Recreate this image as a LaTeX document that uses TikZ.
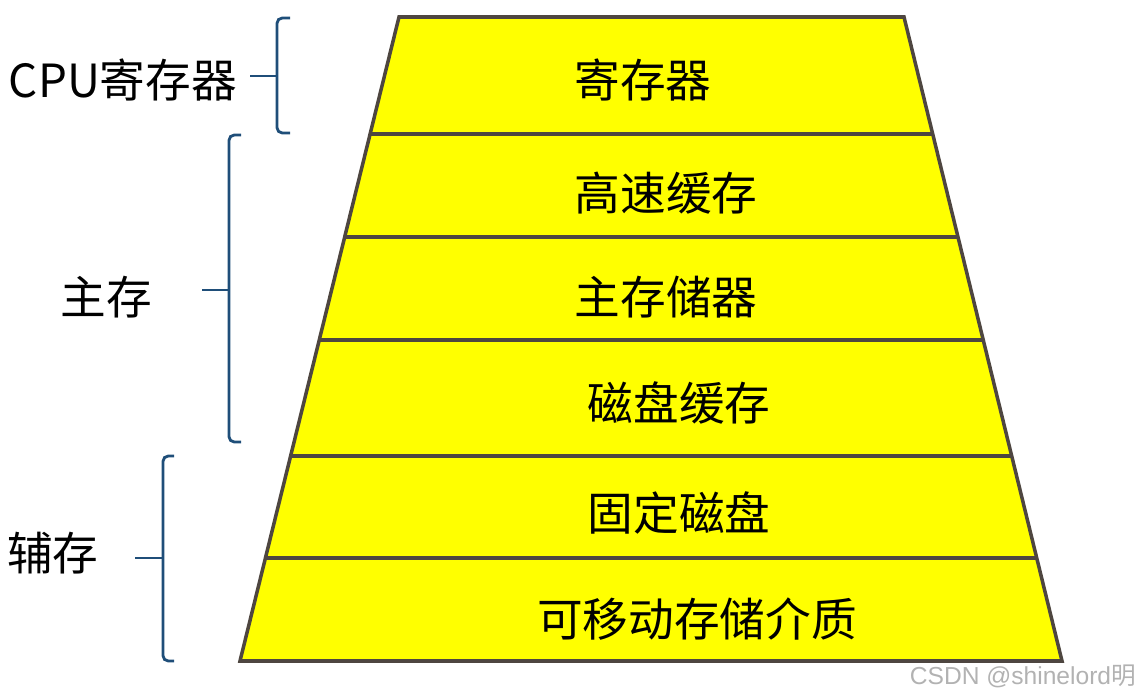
\documentclass[tikz,border=0pt]{standalone}
\usepackage{fontspec}
\setmainfont{Noto Sans CJK SC}
\newfontfamily\marksans{Liberation Sans}
\usepackage{xcolor}
\definecolor{layeryellow}{HTML}{FFFF00}
\definecolor{layeredge}{HTML}{4E4640}
\definecolor{bracenavy}{HTML}{1F4E79}
\tikzset{
  layertext/.style={font=\fontsize{26}{30}\selectfont, text=black},
  sidetext/.style={font=\fontsize{26}{30}\selectfont, text=black},
  bracket/.style={draw=bracenavy, line width=1.6pt, rounded corners=3pt},
}

\begin{document}
\begin{tikzpicture}[x=0.02cm, y=-0.02cm]
        \useasboundingbox (0,0) rectangle (1146,695);
        % pyramid
        \begin{scope}[draw=layeredge, line width=2pt]
            \filldraw[fill=layeryellow] (399,17) -- (904,17) -- (1062,661) -- (240,661) -- cycle;
            \draw (370.1,134) -- (932.7,134);
            \draw (344.7,237) -- (958.0,237);
            \draw (319.3,340) -- (983.2,340);
            \draw (290.6,456) -- (1011.7,456);
            \draw (265.4,558) -- (1036.7,558);
        \end{scope}
        \node[layertext] (reg)   at (643,80)  {寄存器};
        \node[layertext] (cache) at (666,193) {高速缓存};
        \node[layertext] (mem)   at (666,297) {主存储器};
        \node[layertext] (dbuf)  at (679,403) {磁盘缓存};
        \node[layertext] (disk)  at (679,513) {固定磁盘};
        \node[layertext] (media) at (697,619) {可移动存储介质};

        % brackets
        \node[sidetext] (cpu)  at (123,80)  {CPU寄存器};
        \node[sidetext] (main) at (106,297) {主存};
        \node[sidetext] (aux)  at (53,553)  {辅存};
        \draw[bracket] (290,18) -- (277,18) -- (277,133) -- (290,133);
        \draw[bracket] (250,76) -- (277,76);
        \draw[bracket] (241,135) -- (229,135) -- (229,442) -- (241,442);
        \draw[bracket] (202,290) -- (229,290);
        \draw[bracket] (174,456) -- (163,456) -- (163,661) -- (174,661);
        \draw[bracket] (135,558) -- (163,558);

        \node[font=\fontsize{14}{16}\selectfont, text=black!30, anchor=east] (mark) at (1142,676) {{\marksans CSDN @shinelord}明};
\end{tikzpicture}
\end{document}
